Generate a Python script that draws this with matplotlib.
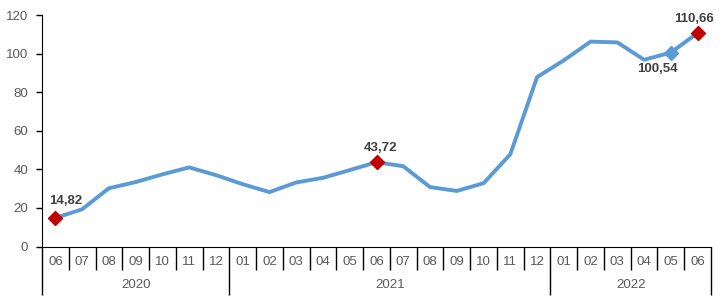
import matplotlib
matplotlib.use("Agg")
import matplotlib.pyplot as plt
import matplotlib.transforms as mtransforms

plt.rcParams['font.family'] = ['Liberation Sans', 'DejaVu Sans']

months = ["06", "07", "08", "09", "10", "11", "12",
          "01", "02", "03", "04", "05", "06", "07", "08", "09", "10", "11", "12",
          "01", "02", "03", "04", "05", "06"]
years = ["2020", "2021", "2022"]
year_counts = [7, 12, 6]
values = [14.82, 19.3, 30.2, 33.4, 37.4, 41.0, 37.0,
          32.3, 28.2, 33.2, 35.6, 39.6, 43.72, 41.6, 30.8, 28.8, 32.8, 47.8, 87.8,
          96.5, 106.2, 105.8, 96.8, 100.54, 110.66]
highlight_red = [0, 12, 24]
highlight_blue = [23]

line_color = "#5B9BD5"
red = "#C00000"
grey = "#595959"
label_color = "#404040"

W, H = 726, 301
fig = plt.figure(figsize=(W / 100, H / 100), dpi=100)
ax = fig.add_axes([42 / W, (H - 246.5) / H, (711 - 42) / W, (246.5 - 15) / H])

x = list(range(len(values)))
ax.plot(x, values, color=line_color, lw=2.8, solid_joinstyle='round', zorder=2)
ax.plot([x[i] for i in highlight_red], [values[i] for i in highlight_red],
        ls='none', marker='D', ms=7.5, color=red, zorder=3)
ax.plot([x[i] for i in highlight_blue], [values[i] for i in highlight_blue],
        ls='none', marker='D', ms=7.5, color=line_color, zorder=3)

ax.set_xlim(-0.5, len(values) - 0.5)
ax.set_ylim(0, 120)
ax.set_yticks(range(0, 121, 20))
ax.tick_params(axis='y', length=4, width=1, colors='black', labelcolor=grey,
               labelsize=9.5, pad=6)
ax.set_xticks([])
for s in ['top', 'right']:
    ax.spines[s].set_visible(False)
ax.spines['left'].set_color('black')
ax.spines['bottom'].set_color('black')

def fmt(v):
    return f"{v:.2f}".replace('.', ',')

P = 0.72  # points per pixel
lab_kw = dict(fontsize=9.5, fontweight='bold', color=label_color,
              textcoords='offset points', ha='center', va='center')
ax.annotate(fmt(values[0]), (0, values[0]), xytext=(10 * P, 17 * P), **lab_kw)
ax.annotate(fmt(values[12]), (12, values[12]), xytext=(4 * P, 14 * P), **lab_kw)
ax.annotate(fmt(values[23]), (23, values[23]), xytext=(-13 * P, -16 * P), **lab_kw)
ax.annotate(fmt(values[24]), (24, values[24]), xytext=(-4 * P, 14 * P), **lab_kw)

# category axis
trans = mtransforms.blended_transform_factory(ax.transData, ax.transAxes)
px = 1 / (246.5 - 15)
month_bottom = -(270 - 246.5) * px
year_bottom = -(295 - 246.5) * px
year_bounds = [0]
for c in year_counts:
    year_bounds.append(year_bounds[-1] + c)

for i, m in enumerate(months):
    ax.text(i, -(262 - 246.5) * px, m, transform=trans, ha='center', va='center',
            fontsize=9.5, color=grey)
for b in range(len(months) + 1):
    bottom = year_bottom if b in year_bounds else month_bottom
    ax.plot([b - 0.5, b - 0.5], [0, bottom], transform=trans, color='black',
            lw=1, clip_on=False, solid_capstyle='butt')

for yi, yr in enumerate(years):
    c = (year_bounds[yi] + year_bounds[yi + 1] - 1) / 2
    ax.text(c, -(285 - 246.5) * px, yr, transform=trans, ha='center', va='center',
            fontsize=9.5, color=grey)

fig.savefig("out.png", dpi=100)
